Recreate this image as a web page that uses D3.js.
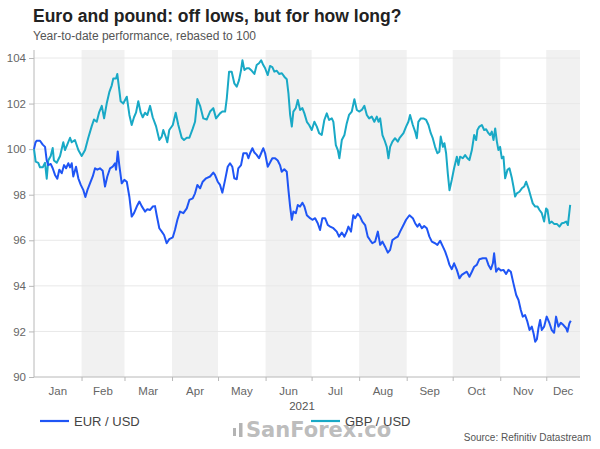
<!DOCTYPE html>
<html><head><meta charset="utf-8">
<script src="https://cdn.jsdelivr.net/npm/d3@7"></script>
<style>
html,body{margin:0;padding:0;background:#fff;}
svg{display:block;font-family:"Liberation Sans",Arial,sans-serif;}
</style></head>
<body><svg id="c" width="600" height="449"></svg>
<script>
// ---- data (day of year since 1 Jan 2021, value rebased to 100) ----
const eurDays = [0,1,1.8,3.9,5.7,7.2,8.3,9.3,10.9,12.2,13.7,15.2,16.5,18.1,19.6,20.9,22.4,23.5,24.6,25.6,27.4,28.9,30.5,32.2,33.5,34.8,36.5,38.3,39.8,41.3,43,44.8,46.3,47.8,49.6,51.3,52.8,53.5,54.6,55.6,57.2,58.9,60.5,62.2,63.7,65.2,67,68.7,70.2,72.4,73.9,75.7,77.4,78.9,80,81.7,83.3,84.8,86.5,88.2,90.5,91.9,93.5,95.2,97.4,99.6,101.3,103.5,105,106.5,108.3,110,112.2,114.8,116.9,
118,119.8,121.3,122.8,124.6,126.3,127.8,129.3,130.6,132.2,133.2,135,136.5,138.7,139.8,140.9,142.4,143.7,145.2,146.7,148.1,149.5,150.7,152.4,153.9,155.4,157.2,158.9,160.4,161.5,163.2,164.8,165.9,167,168.1,169.1,170.7,172,173.5,175,176.3,177.9,180,181.5,183.3,185,186.5,188,189.8,191.6,193.1,195.2,197.4,198.9,200.7,202.4,203.9,205,206.7,208.2,209.4,211.1,212.6,214.1,215.9,217.6,219.1,220.6,222.4,224.2,225.7,227.2,228.9,230.7,232.2,233.7,235.4,237.2,
238.7,240.9,242.6,244.8,247,248.5,250,251.3,252.9,254.4,256.1,257.8,259.4,261.5,263,264.8,266.6,268.1,269.6,270.9,272.4,273.9,275.7,277.4,278.9,280.4,282.2,283.9,285.5,287,288.7,290.4,292.6,294.8,296.3,297.9,299.2,300,301.3,302.8,304.4,306.1,307.8,309.3,310.9,312.6,314.4,315.9,317.4,318.7,320.2,321.7,323.1,324.6,325.7,326.8,327.9,328.9,330,331.1,332.6,334.3,336.1,337.6,339.1,340.4,341.9,343.5,345.2,347,347.8,349.1,350];
const eurValues = [100,100.3,100.37,100.37,100.2,100.1,99.5,99.3,99.35,99.16,98.87,98.7,99.1,98.94,99.3,99.16,99.38,99.2,99.38,98.8,99.23,98.72,98.43,98.2,97.9,98.2,98.5,98.8,99.16,99.1,99.16,99.05,98.36,98.8,99.16,99.23,99.38,99.1,99.9,99.3,98.5,98.65,98.57,97.9,97.04,97.19,97.48,97.7,97.5,97.26,97.36,97.33,97.48,97.5,97.1,96.53,96.38,96.23,95.87,96.05,96.13,96.45,96.9,97.26,97.19,97.4,97.77,97.84,98.06,98.43,98.28,98.57,98.72,98.8,98.97,
98.87,98.57,98.43,98.09,98.65,99.23,99.38,99.23,98.72,98.68,99.16,99.3,99.82,99.82,99.6,99.82,100.04,99.85,99.75,99.6,99.82,100.04,99.82,99.23,99.41,99.6,99.6,99.5,99.3,99.01,99.12,99.01,98.2,97.48,96.9,97.26,97.19,97.55,97.48,97.65,97.48,97.1,96.97,96.9,96.97,96.75,96.45,96.97,96.97,96.67,96.6,96.53,96.38,96.16,96.34,96.16,96.38,96.6,96.38,97.1,96.97,97.16,97.04,96.82,96.67,96.16,96.01,95.87,95.94,96.38,95.8,95.94,95.72,95.46,95.58,96.01,96.09,96.16,
96.38,96.67,96.9,97.1,96.97,96.75,96.6,96.72,96.53,96.63,96.53,96.16,95.94,95.87,95.8,95.98,95.72,95.5,95.21,94.92,94.73,94.99,94.7,94.33,94.48,94.55,94.62,94.4,94.62,94.84,94.92,95.17,95.21,95.21,94.92,94.73,94.99,95.43,94.62,94.77,94.67,94.7,94.52,94.7,94.62,94.11,93.6,93.38,92.94,92.65,92.72,92.43,92.06,92.21,91.92,91.55,91.66,92.14,92.5,92.06,92.21,92.65,92.36,92.06,91.94,92.65,92.21,92.38,92.28,92.14,91.99,92.36,92.47];

const gbpDays = [0,1.1,2.8,3.9,5.7,7.2,8.3,9.3,10.9,12.2,13,14.8,17,19.1,20.2,21.7,23.5,24.6,26.7,28.9,31.1,33.3,35.4,37.6,39.1,40.9,42.4,44.2,45.7,47.4,49.1,50.7,51.7,53.5,54.3,55.6,56.5,58.2,60.5,62.2,63.7,65.2,66.5,68,69.6,70.9,72.4,73.9,75.7,77.4,79.6,81.7,83.3,84.3,86.1,86.9,88.2,90.5,92.4,94.1,96.3,97.8,99.6,101.3,103.5,105,106.5,108.3,110.4,112.6,114.8,116.9,118.7,
121.3,122.8,124.6,125.7,127.2,128.9,130.6,132.2,133.7,135,135.9,137.2,138.7,140.2,142,143.7,145.2,146.7,148.1,149.5,150.7,152.4,153.9,155.4,156.7,158.3,159.8,161.6,163.2,164.8,165.9,167,168.1,169.1,170.7,172,173.5,175,176.3,177.9,179.4,181.1,182.8,184.4,185.9,187.6,189.3,190.9,192.4,194.2,195.2,196.8,198.1,199.1,200.7,202.4,203.9,205.4,207.2,208.9,210.5,212,213.7,215.4,217,218.5,220.2,221.9,223.5,224.6,225.7,227.2,228.5,230,231.1,232.2,233.7,235.4,237.2,
238.3,240.9,242.6,244.1,245.2,247,248.5,249.6,250.6,252.2,253.9,255.7,257.2,258.7,260,261.5,263,264.3,265.2,266.6,267.6,268.7,269.8,270.9,272.4,273.9,275.7,276.7,277.8,279.6,281.1,282.6,283.9,285.5,287,288.3,289.1,290.4,292,293.5,294.8,296.3,297.4,298.5,299.6,300.7,301.8,302.8,303.9,305,306.1,307.2,308.7,310,311.6,312.6,313.7,314.8,316.5,318.1,319.6,320.9,322.4,323.9,325.2,326.8,328.3,329.6,331.1,332.6,333.9,334.8,336.1,337.6,339.1,340.9,342.6,344.2,345.7,347,348.1,349.6];
const gbpValues = [100,99.45,99.4,99.2,99.2,99.4,98.7,99.5,99.7,100.05,99.5,99.4,99.7,100.3,99.96,100.2,100.5,100.3,100.4,99.96,99.7,99.96,100.5,101,101.3,101.2,101.6,101.9,101.35,102,102.5,102.8,103.1,103.1,103.3,102.6,102.1,102,102.3,101.5,101.06,101.4,101.6,102.1,101.6,101.4,101.6,101.5,101.9,101.4,101,100.4,100.55,100.84,100.5,100.3,100.84,101.06,101.6,101.06,100.5,100.4,100.5,100.5,100.9,101.2,102.2,101.9,101.35,101.3,101.65,101.8,101.35,
101.57,101.65,101.65,102.23,103.4,103.4,102.89,102.74,103.03,103.47,103.9,103.47,103.55,103.55,103.44,103.3,103.69,103.77,103.9,103.69,103.55,103.25,103.65,103.6,103.4,103.44,103.3,103.33,103.18,103.07,102.45,101.5,100.99,101.65,101.8,102.16,101.72,101.8,101.57,101.2,101.06,100.84,101.2,100.99,100.7,100.62,101.28,101.57,101.28,101.35,101.2,100.18,99.96,99.6,100.4,100.62,101.13,101.5,101.65,102.19,101.72,101.65,101.72,101.9,101.5,101.35,101.43,101.2,101.43,101.2,101.35,100.62,100.4,100.1,99.6,100.1,100.33,100.48,100.33,
100.48,100.7,100.99,101.2,101.5,101.06,100.77,100.48,101.2,101.35,101.35,101.28,101.06,100.7,100.48,100.1,99.82,99.89,100.55,100.1,100.26,99.82,98.94,98.2,98.65,99.16,99.67,99.3,99.67,99.6,99.74,99.6,99.52,99.96,100.62,100.4,100.84,100.99,101.06,100.84,100.87,100.7,100.62,100.77,100.4,100.91,100.33,99.96,100.1,99.6,99.67,98.72,99.09,99.16,98.72,98.36,97.92,98.06,98.13,98.28,98.36,98.57,98.28,97.92,97.62,97.48,97.48,97.33,97.19,96.82,97.4,97.33,96.75,96.82,96.72,96.72,96.6,96.75,96.77,96.82,96.67,97.55];

const monthLabels = ["Jan","Feb","Mar","Apr","May","Jun","Jul","Aug","Sep","Oct","Nov","Dec"];
const yTicks = [90,92,94,96,98,100,102,104];
const seriesNames = ["EUR / USD","GBP / USD"];
const seriesColors = ["#1f55f5","#19a9c6"];

// ---- chart ----
const svg = d3.select("#c");
const DAY = 864e5, t0 = Date.UTC(2021,0,1);
const toDate = d => new Date(t0 + d*DAY);
const m = {left:34, right:580, top:58, bottom:377};

const x = d3.scaleUtc().domain([toDate(0), toDate(356)]).range([m.left, m.right]);
const y = d3.scaleLinear().domain([90,104]).range([m.bottom, m.top]);

// alternating month bands
const monthStarts = d3.utcMonth.range(toDate(0), new Date(Date.UTC(2022,0,1)));
monthStarts.forEach((d,i) => {
  if (i % 2 === 1) {
    const end = i < 11 ? monthStarts[i+1] : x.domain()[1];
    svg.append("rect").attr("x", x(d)).attr("y", m.top - 8)
      .attr("width", Math.min(x(end), m.right) - x(d))
      .attr("height", m.bottom - m.top + 8).attr("fill", "#f1f1f1");
  }
});

// horizontal gridlines
svg.append("g").selectAll("line").data(yTicks.filter(v => v > 90)).join("line")
  .attr("x1", m.left).attr("x2", m.right)
  .attr("y1", d => y(d)).attr("y2", d => y(d))
  .attr("stroke", "#e8e8e8").attr("stroke-width", 1);

// y axis
const yAxis = svg.append("g").attr("transform", `translate(${m.left},0)`)
  .call(d3.axisLeft(y).tickValues(yTicks).tickSize(5).tickPadding(3));
yAxis.select(".domain").attr("stroke", "#b8b8b8").attr("d", `M0,${m.top-8}V${m.bottom}`);
yAxis.selectAll(".tick line").attr("stroke", "#b8b8b8");
yAxis.selectAll("text").attr("fill", "#666").attr("font-size", 11.5)
  .attr("font-family", "Liberation Sans, Arial, sans-serif");

// x axis (month boundary ticks)
const xAxis = svg.append("g").attr("transform", `translate(0,${m.bottom})`)
  .call(d3.axisBottom(x).tickValues(monthStarts.slice(1)).tickSize(4).tickFormat(""));
xAxis.select(".domain").attr("stroke", "#b8b8b8").attr("d", `M${m.left},0H${m.right}`);
xAxis.selectAll(".tick line").attr("stroke", "#b8b8b8");

// month labels (mid-month)
svg.append("g").selectAll("text").data(monthLabels).join("text")
  .attr("x", (d,i) => {
    const s = monthStarts[i], e = i < 11 ? monthStarts[i+1] : x.domain()[1];
    return (x(s) + Math.min(x(e), m.right)) / 2;
  })
  .attr("y", 395).attr("text-anchor", "middle")
  .attr("font-size", 11.5).attr("fill", "#666").text(d => d);

svg.append("text").attr("x", 302).attr("y", 410).attr("text-anchor", "middle")
  .attr("font-size", 11.5).attr("fill", "#555").text("2021");

// lines
const line = d3.line().x(d => x(toDate(d[0]))).y(d => y(d[1]));
const eurData = d3.zip(eurDays, eurValues);
const gbpData = d3.zip(gbpDays, gbpValues);
svg.append("path").datum(gbpData).attr("d", line).attr("fill", "none")
  .attr("stroke", seriesColors[1]).attr("stroke-width", 2).attr("stroke-linejoin", "round");
svg.append("path").datum(eurData).attr("d", line).attr("fill", "none")
  .attr("stroke", seriesColors[0]).attr("stroke-width", 2).attr("stroke-linejoin", "round");

// titles
svg.append("text").attr("x", 33).attr("y", 22).attr("font-size", 17.5)
  .attr("font-weight", "bold").attr("fill", "#222")
  .text("Euro and pound: off lows, but for how long?");
svg.append("text").attr("x", 33).attr("y", 40).attr("font-size", 12)
  .attr("fill", "#555").text("Year-to-date performance, rebased to 100");

// watermark
const wm = svg.append("g").attr("fill", "#b4b4b4");
wm.append("rect").attr("x", 233).attr("y", 428).attr("width", 3).attr("height", 8);
wm.append("rect").attr("x", 239).attr("y", 423).attr("width", 3.5).attr("height", 14);
wm.append("text").attr("x", 246).attr("y", 437).attr("font-size", 21)
  .attr("font-weight", "bold").attr("font-family", "DejaVu Sans, sans-serif")
  .attr("fill-opacity", 0.9).text("SanForex.co");

// legend
const legX = [40, 311];
seriesNames.forEach((n,i) => {
  svg.append("line").attr("x1", legX[i]).attr("x2", legX[i] + 29)
    .attr("y1", 421).attr("y2", 421).attr("stroke", seriesColors[i]).attr("stroke-width", 2.2);
  svg.append("text").attr("x", legX[i] + 34).attr("y", 426)
    .attr("font-size", 13).attr("fill", "#444").text(n);
});

svg.append("text").attr("x", 591).attr("y", 441).attr("text-anchor", "end")
  .attr("font-size", 10).attr("fill", "#555").text("Source: Refinitiv Datastream");
</script></body></html>
